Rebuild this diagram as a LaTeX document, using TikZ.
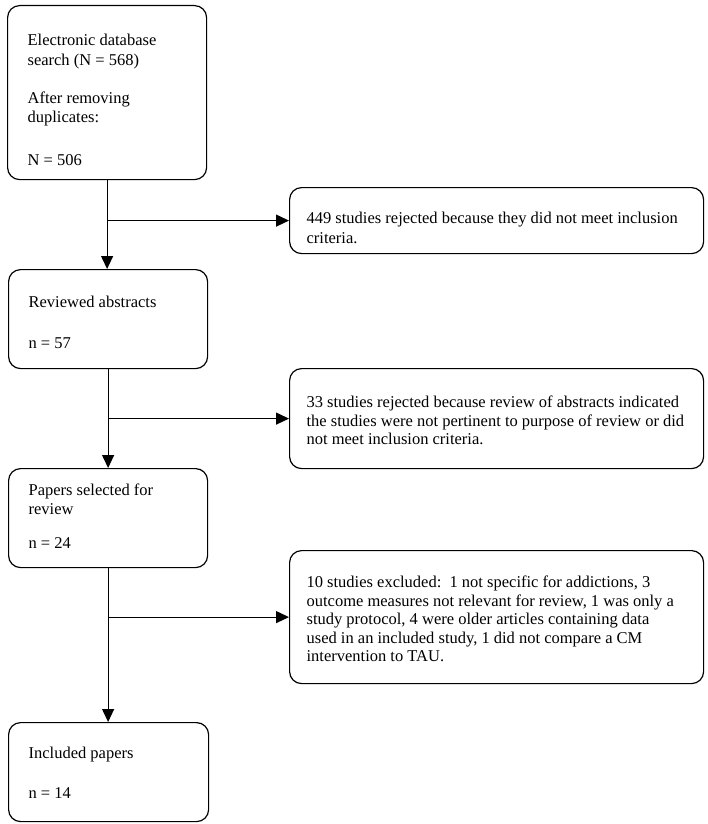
\documentclass[tikz,border=0pt]{standalone}
\usepackage{fontspec}
\setmainfont{Liberation Serif}
\usetikzlibrary{arrows.meta,positioning}

\newcommand{\boxtext}[4]{\parbox[c][#1][t]{#2}{\raggedright\rule{0pt}{#3}#4}}

\begin{document}
\begin{tikzpicture}[x=1pt,y=1pt,
    stage/.style={draw,line width=1.2pt,rounded corners=12pt,anchor=north west,
        inner xsep=20pt,inner ysep=0pt,font=\fontsize{16.5}{18.5}\selectfont},
    reject/.style={stage,inner xsep=17pt},
    link/.style={-{Triangle[length=13pt,width=12pt]},line width=1.2pt}]
\useasboundingbox (0,0) rectangle (708,-824);
% left column
\node[stage] (search) at (7,-5) {\boxtext{174pt}{159pt}{40pt}{Electronic database\\[1.5pt]
    search (N = 568)\\[19.5pt] After removing\\ duplicates:\\[24.5pt] N = 506}};
\node[stage] (abstracts) at (8,-269) {\boxtext{99pt}{159pt}{38pt}{Reviewed abstracts\\[22.5pt] n = 57}};
\node[stage] (selected) at (8,-468) {\boxtext{99pt}{159pt}{27pt}{Papers selected for\\ review\\[15.5pt] n = 24}};
\node[stage] (included) at (8,-722) {\boxtext{99pt}{160pt}{36pt}{Included papers\\[21.5pt] n = 14}};
% right column
\node[reject] (reject1) at (289,-187) {\boxtext{66pt}{380pt}{36pt}{449 studies rejected because they did not meet inclusion\\[1.5pt] criteria.}};
\node[reject] (reject2) at (289,-368) {\boxtext{100pt}{380pt}{39pt}{33 studies rejected because review of abstracts indicated\\
    the studies were not pertinent to purpose of review or did\\ not meet inclusion criteria.}};
\node[reject] (reject3) at (289,-550) {\boxtext{133pt}{380pt}{37pt}{10 studies excluded:\ \ 1 not specific for addictions, 3\\
    outcome measures not relevant for review, 1 was only a\\ study protocol, 4 were older articles containing data\\
    used in an included study, 1 did not compare a CM\\ intervention to TAU.}};
% connectors
\draw[link] (search.south) -- (search.south |- abstracts.north);
\draw[link] (search.south |- reject1.west) -- (reject1.west);
\draw[link] (abstracts.south) -- (abstracts.south |- selected.north);
\draw[link] (abstracts.south |- reject2.west) -- (reject2.west);
\draw[link] (selected.south) -- (selected.south |- included.north);
\draw[link] (selected.south |- reject3.west) -- (reject3.west);
\end{tikzpicture}
\end{document}
